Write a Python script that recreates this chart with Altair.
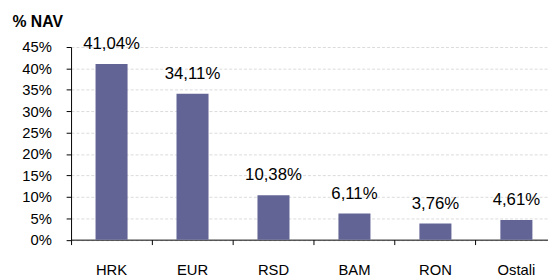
import altair as alt
import pandas as pd

categories = ["HRK", "EUR", "RSD", "BAM", "RON", "Ostali"]
values = [41.04, 34.11, 10.38, 6.11, 3.76, 4.61]
labels = ["41,04%", "34,11%", "10,38%", "6,11%", "3,76%", "4,61%"]
y_ticks = [0, 0.05, 0.10, 0.15, 0.20, 0.25, 0.30, 0.35, 0.40, 0.45]

df = pd.DataFrame({
    "cat": categories,
    "val": [v / 100 for v in values],
    "lab": labels,
})

FONT = "Liberation Sans"

x = alt.X("cat:N", sort=categories,
          scale=alt.Scale(range=[0, 493], paddingInner=0, paddingOuter=0),
          axis=alt.Axis(title=None, labelAngle=0, bandPosition=0,
                        domainColor="#000000", tickColor="#000000", tickSize=5,
                        labelFontSize=15, labelColor="#000000", labelFont=FONT,
                        labelPadding=18, grid=False, labelOverlap=False))
y = alt.Y("val:Q", scale=alt.Scale(domain=[0, 0.45], nice=False),
          axis=alt.Axis(values=y_ticks, format=".0%", title="% NAV",
                        titleAngle=0, titleAlign="left", titleBaseline="alphabetic",
                        titleX=-60, titleY=-21, titleFontSize=16, titleFontWeight="bold",
                        titleFont=FONT, titleColor="#000000",
                        domainColor="#000000", tickColor="#000000", tickSize=5,
                        labelFontSize=15, labelColor="#000000", labelFont=FONT,
                        labelPadding=15, labelOverlap=False, labelBound=False,
                        grid=True, gridColor="#dadada",
                        gridDash=[3, 2], gridWidth=1))

bars = alt.Chart(df).mark_bar(size=32.5, color="#636496").encode(x=x, y=y)
text = alt.Chart(df).mark_text(baseline="alphabetic", dy=-15, fontSize=17,
                               font=FONT, color="#000000").encode(
    x=x, y=y, text="lab:N")

chart = alt.layer(bars, text).properties(
    width=484, height=195.5,
    autosize=alt.AutoSizeParams(type="none"),
    padding={"left": 64, "top": 37.6, "right": 0, "bottom": 36},
).configure_view(stroke=None)

chart.save("out.html", embed_options={"renderer": "svg", "actions": False})
